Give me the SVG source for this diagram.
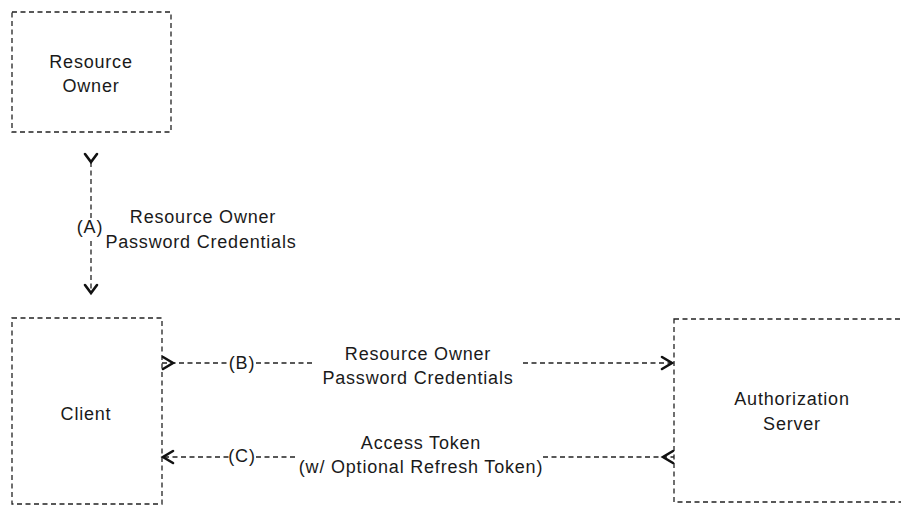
<svg xmlns="http://www.w3.org/2000/svg" width="901" height="506" viewBox="0 0 901 506">
<style>
.box{fill:none;stroke:#222;stroke-width:1.3;stroke-dasharray:5 3.5}
.ln{fill:none;stroke:#222;stroke-width:1.3;stroke-dasharray:5 3.5}
.hd{fill:none;stroke:#111;stroke-width:2.6;stroke-linecap:round;stroke-linejoin:miter}
text{font-family:"Liberation Sans",Arial,sans-serif;font-size:18px;fill:#1a1a1a;letter-spacing:0.8px;text-anchor:middle}
</style>
<rect width="901" height="506" fill="#fff"/>
<g id="resource-owner">
<rect class="box" x="12" y="12" width="159" height="120"/>
<text x="91" y="68">Resource</text>
<text x="91" y="92">Owner</text>
</g>
<g id="client">
<rect class="box" x="12" y="318" width="150" height="186"/>
<text x="86" y="420">Client</text>
</g>
<g id="authorization-server">
<rect class="box" x="674" y="319" width="240" height="183"/>
<text x="792" y="405">Authorization</text>
<text x="792" y="430">Server</text>
</g>
<g id="connectors">
<path class="ln" d="M91 162V219M91 241V293"/>
<polyline class="hd" points="85,154 91,162 97,154"/>
<polyline class="hd" points="85,285 91,293 97,285"/>
<text x="90" y="233">(A)</text>
<text x="203" y="223">Resource Owner</text>
<text x="201" y="248">Password Credentials</text>
<path class="ln" d="M162 363H229M256 363H314M523 363H672"/>
<polyline class="hd" points="163,357 173,363 163,369"/>
<polyline class="hd" points="662,357 672,363 662,369"/>
<text x="242" y="369">(B)</text>
<text x="418" y="360">Resource Owner</text>
<text x="418" y="384">Password Credentials</text>
<path class="ln" d="M164 457H229M256 457H296M543 457H674"/>
<polyline class="hd" points="173,451 163,457 173,463"/>
<polyline class="hd" points="673,451 663,457 673,463"/>
<text x="242" y="462">(C)</text>
<text x="421" y="449">Access Token</text>
<text x="421" y="473">(w/ Optional Refresh Token)</text>
</g>
</svg>
